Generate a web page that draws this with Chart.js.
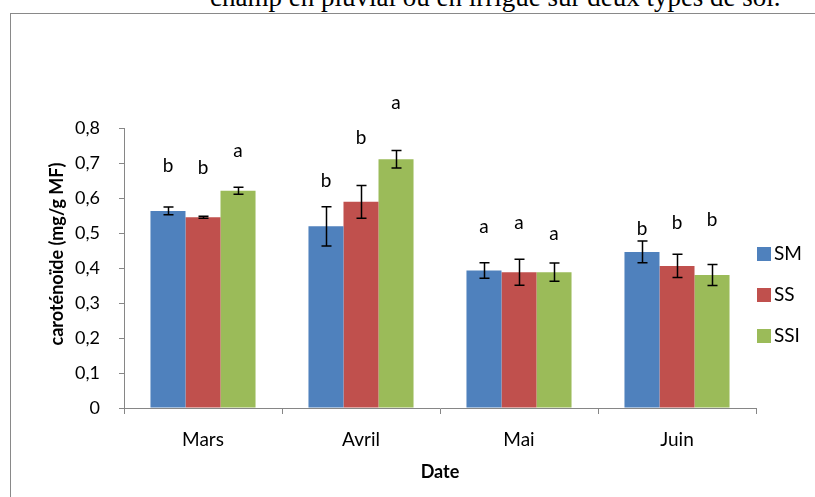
<!DOCTYPE html>
<html>
<head>
<meta charset="utf-8">
<script src="https://cdn.jsdelivr.net/npm/chart.js@4"></script>
<style>
    html, body { margin: 0; padding: 0; background: #fff; overflow: hidden; }
    body { width: 815px; height: 497px; position: relative; }
    #caption {
        position: absolute; left: 210px; top: -16px;
        font: 27px "Liberation Serif", "Times New Roman", serif;
        line-height: 27px; white-space: nowrap; color: #000;
    }
    #frame {
        position: absolute; left: 10px; top: 13px; width: 840px; height: 520px;
        border: 1px solid #898989; box-sizing: border-box;
    }
    #wrap { position: absolute; left: 0; top: 0; width: 815px; height: 497px; }
</style>
</head>
<body>
<div id="caption">champ en pluvial ou en irrigué sur deux types de sol.</div>
<div id="frame"></div>
<div id="wrap"><canvas id="chart"></canvas></div>
<script>
// ── Data ──────────────────────────────────────────────────────────────
const months = ['Mars', 'Avril', 'Mai', 'Juin'];

const smValues  = [0.563, 0.519, 0.393, 0.446];
const ssValues  = [0.545, 0.589, 0.388, 0.406];
const ssiValues = [0.621, 0.711, 0.388, 0.380];

const smErr  = [0.011, 0.056, 0.022, 0.031];
const ssErr  = [0.003, 0.047, 0.037, 0.033];
const ssiErr = [0.010, 0.025, 0.026, 0.030];

// significance letters and the height (mg/g) where each one sits
const smLetters  = ['b', 'b', 'a', 'b'];
const ssLetters  = ['b', 'b', 'a', 'b'];
const ssiLetters = ['a', 'a', 'a', 'b'];
const smLetterAt  = [0.692, 0.649, 0.517, 0.511];
const ssLetterAt  = [0.686, 0.771, 0.529, 0.529];
const ssiLetterAt = [0.735, 0.872, 0.497, 0.537];

const yTicks = [0, 0.1, 0.2, 0.3, 0.4, 0.5, 0.6, 0.7, 0.8];

const FONT = 'Lato, "Open Sans", sans-serif';
const AXIS_GREY = '#868686';

const series = [
    { label: 'SM',  data: smValues,  err: smErr,  letters: smLetters,  letterAt: smLetterAt,  color: '#4F81BD' },
    { label: 'SS',  data: ssValues,  err: ssErr,  letters: ssLetters,  letterAt: ssLetterAt,  color: '#C0504D' },
    { label: 'SSI', data: ssiValues, err: ssiErr, letters: ssiLetters, letterAt: ssiLetterAt, color: '#9BBB59' },
];

// ── Plugins ───────────────────────────────────────────────────────────

const errorBars = {
    id: 'errorBars',
    afterDatasetsDraw(chart) {
        const { ctx, scales: { y } } = chart;
        ctx.save();
        ctx.strokeStyle = '#000';
        ctx.lineWidth = 1.5;
        chart.data.datasets.forEach((ds, i) => {
            chart.getDatasetMeta(i).data.forEach((bar, j) => {
                const hi = y.getPixelForValue(ds.data[j] + ds.err[j]);
                const lo = y.getPixelForValue(ds.data[j] - ds.err[j]);
                const x = Math.round(bar.x) + 0.5;
                ctx.beginPath();
                ctx.moveTo(x, hi); ctx.lineTo(x, lo);
                ctx.moveTo(x - 5, hi); ctx.lineTo(x + 5, hi);
                ctx.moveTo(x - 5, lo); ctx.lineTo(x + 5, lo);
                ctx.stroke();
            });
        });
        ctx.restore();
    },
};

const letters = {
    id: 'letters',
    afterDatasetsDraw(chart) {
        const { ctx, scales: { y } } = chart;
        ctx.save();
        ctx.fillStyle = '#000';
        ctx.font = `19px ${FONT}`;
        ctx.textAlign = 'center';
        ctx.textBaseline = 'middle';
        chart.data.datasets.forEach((ds, i) => {
            chart.getDatasetMeta(i).data.forEach((bar, j) => {
                ctx.fillText(ds.letters[j], bar.x, y.getPixelForValue(ds.letterAt[j]));
            });
        });
        ctx.restore();
    },
};

// Excel-style legend to the right of the plot
const sideLegend = {
    id: 'sideLegend',
    afterDraw(chart) {
        const { ctx, chartArea } = chart;
        ctx.save();
        ctx.font = `19px ${FONT}`;
        ctx.textBaseline = 'middle';
        chart.data.datasets.forEach((ds, i) => {
            const cy = chartArea.top + 126 + i * 41;
            ctx.fillStyle = ds.backgroundColor;
            ctx.fillRect(chartArea.right + 1, cy - 7, 14, 14);
            ctx.fillStyle = '#000';
            ctx.fillText(ds.label, chartArea.right + 18, cy);
        });
        ctx.restore();
    },
};

// y title, centred a little above the plot's middle like the original
const yTitle = {
    id: 'yTitle',
    afterDraw(chart) {
        const { ctx } = chart;
        ctx.save();
        ctx.translate(57, 254);
        ctx.rotate(-Math.PI / 2);
        ctx.font = `bold 18px ${FONT}`;
        ctx.fillStyle = '#000';
        ctx.textAlign = 'center';
        ctx.textBaseline = 'middle';
        ctx.fillText('caroténoïde (mg/g MF)', 0, 0);
        ctx.restore();
    },
};

// ── Chart ─────────────────────────────────────────────────────────────

new Chart(document.getElementById('chart'), {
    type: 'bar',
    data: {
        labels: months,
        datasets: series.map(s => ({
            label:              s.label,
            data:               s.data,
            err:                s.err,
            letters:            s.letters,
            letterAt:           s.letterAt,
            backgroundColor:    s.color,
            borderWidth:        0,
            categoryPercentage: 0.665,
            barPercentage:      1.0,
        })),
    },
    options: {
        responsive:          true,
        maintainAspectRatio: false,
        animation:           false,
        layout: { padding: { left: 0, right: 59, top: 128, bottom: 0 } },
        plugins: {
            legend:  { display: false },
            tooltip: { enabled: false },
        },
        scales: {
            x: {
                afterFit: s => { s.height = 89; },
                border: { color: AXIS_GREY, width: 1 },
                grid: {
                    display: true, drawOnChartArea: false, offset: true,
                    tickLength: 6, color: AXIS_GREY,
                },
                ticks: { color: '#000', padding: 14, font: { family: FONT, size: 19 } },
                title: {
                    display: true, text: 'Date', color: '#000',
                    font: { family: FONT, size: 18, weight: 'bold' },
                    padding: { top: 0, bottom: 14 },
                },
            },
            y: {
                min: 0, max: 0.8,
                afterFit: s => { s.width = 124; },
                afterBuildTicks: s => { s.ticks = yTicks.map(v => ({ value: v })); },
                border: { color: AXIS_GREY, width: 1 },
                grid: {
                    display: true, drawOnChartArea: false,
                    tickLength: 5, color: AXIS_GREY,
                },
                ticks: {
                    color: '#000', padding: 19,
                    font: { family: FONT, size: 18 },
                    callback: v => v === 0 ? '0' : v.toFixed(1).replace('.', ','),
                },
            },
        },
    },
    plugins: [errorBars, letters, sideLegend, yTitle],
});
</script>
</body>
</html>
